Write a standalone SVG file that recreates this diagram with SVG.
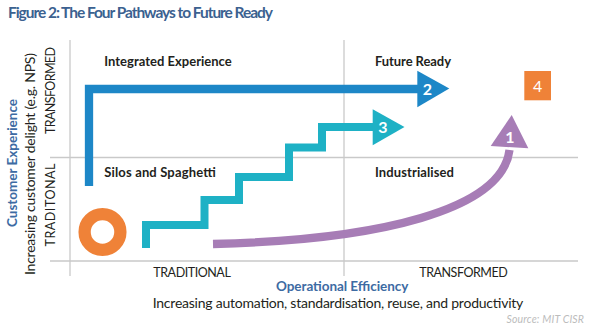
<svg xmlns="http://www.w3.org/2000/svg" width="591" height="328" viewBox="0 0 591 328">
<style>
.grid{stroke:#c9c9c9;stroke-width:1.3;fill:none}
.t{font-family:Lato,"Open Sans","Liberation Sans",sans-serif}
.q{font-size:13px;font-weight:700;fill:#231f20}
.ax{font-size:12.5px;fill:#231f20}
.sub{font-size:14px;fill:#231f20}
.blue{fill:#3d6ba3;font-weight:700;font-size:13.5px}
.num{font-size:16px;font-weight:700;fill:#fff;text-anchor:middle}
</style>
<rect width="591" height="328" fill="#fff"/>
<text class="t" x="8" y="17.5" font-size="15.5" font-weight="700" fill="#3b6190" textLength="265">Figure 2: The Four Pathways to Future Ready</text>
<g id="grid">
<line class="grid" x1="70" y1="40" x2="70" y2="276"/>
<line class="grid" x1="344" y1="40" x2="344" y2="276"/>
<line class="grid" x1="50" y1="157.5" x2="578" y2="157.5"/>
<line class="grid" x1="50" y1="261" x2="578" y2="261"/>
</g>
<g id="axis-y">
<text class="t blue" transform="translate(16.5,163) rotate(-90)" text-anchor="middle" textLength="128">Customer Experience</text>
<text class="t sub" transform="translate(34.5,164) rotate(-90)" text-anchor="middle" textLength="222">Increasing customer delight (e.g. NPS)</text>
<text class="t ax" transform="translate(55,90.5) rotate(-90)" text-anchor="middle" textLength="87">TRANSFORMED</text>
<text class="t ax" transform="translate(55,205) rotate(-90)" text-anchor="middle" textLength="83">TRADITONAL</text>
</g>
<g id="axis-x">
<text class="t ax" x="153.3" y="276.5" textLength="77.5">TRADITIONAL</text>
<text class="t ax" x="419.3" y="276.5" textLength="88.4">TRANSFORMED</text>
<text class="t blue" x="276" y="291" textLength="132.3">Operational Efficiency</text>
<text class="t sub" x="152.7" y="308.3" textLength="370.6">Increasing automation, standardisation, reuse, and productivity</text>
<text class="t" x="584" y="322.5" font-size="10.5" font-style="italic" fill="#bcbcbc" text-anchor="end" textLength="77.5">Source: MIT CISR</text>
</g>
<g id="quadrant-integrated"><text class="t q" x="104.3" y="65.7" textLength="127.4">Integrated Experience</text></g>
<g id="quadrant-future"><text class="t q" x="375" y="65.7" textLength="76">Future Ready</text></g>
<g id="quadrant-silos"><text class="t q" x="104.3" y="177" textLength="111.4">Silos and Spaghetti</text></g>
<g id="quadrant-industrialised"><text class="t q" x="375" y="177" textLength="79">Industrialised</text></g>
<g id="connectors">
<g id="path2">
<path d="M89,186 V89 H420" fill="none" stroke="#1d87c7" stroke-width="8.3" stroke-linejoin="miter"/>
<polygon points="417.3,70.7 449.3,88.5 417.3,107.3" fill="#1d87c7"/>
<text class="t num" x="427.5" y="94.8">2</text>
</g>
<g id="path3">
<path d="M146,248 V225 H204.5 V200 H239 V177 H289 V147.5 H322 V127 H375" fill="none" stroke="#1eb1c5" stroke-width="8" stroke-linejoin="miter"/>
<polygon points="372.7,109.3 404.5,127 372.7,145.3" fill="#1eb1c5"/>
<text class="t num" x="383" y="132.7">3</text>
</g>
<g id="path1">
<path d="M213,244 C380,240 502,210 509.5,150" fill="none" stroke="#a77db6" stroke-width="8.3"/>
<polygon points="511.7,115 528.3,148.3 490.7,146" fill="#a77db6"/>
<text class="t num" x="510" y="142.5">1</text>
</g>
</g>
<g id="start-ring"><circle cx="102.5" cy="232" r="17.9" fill="none" stroke="#ef8238" stroke-width="12.3"/></g>
<g id="pathway4">
<rect x="524.3" y="71" width="26.7" height="29.3" fill="#ef8238"/>
<text class="t" x="537.7" y="91.8" font-size="16" fill="#fff" text-anchor="middle">4</text>
</g>
</svg>
